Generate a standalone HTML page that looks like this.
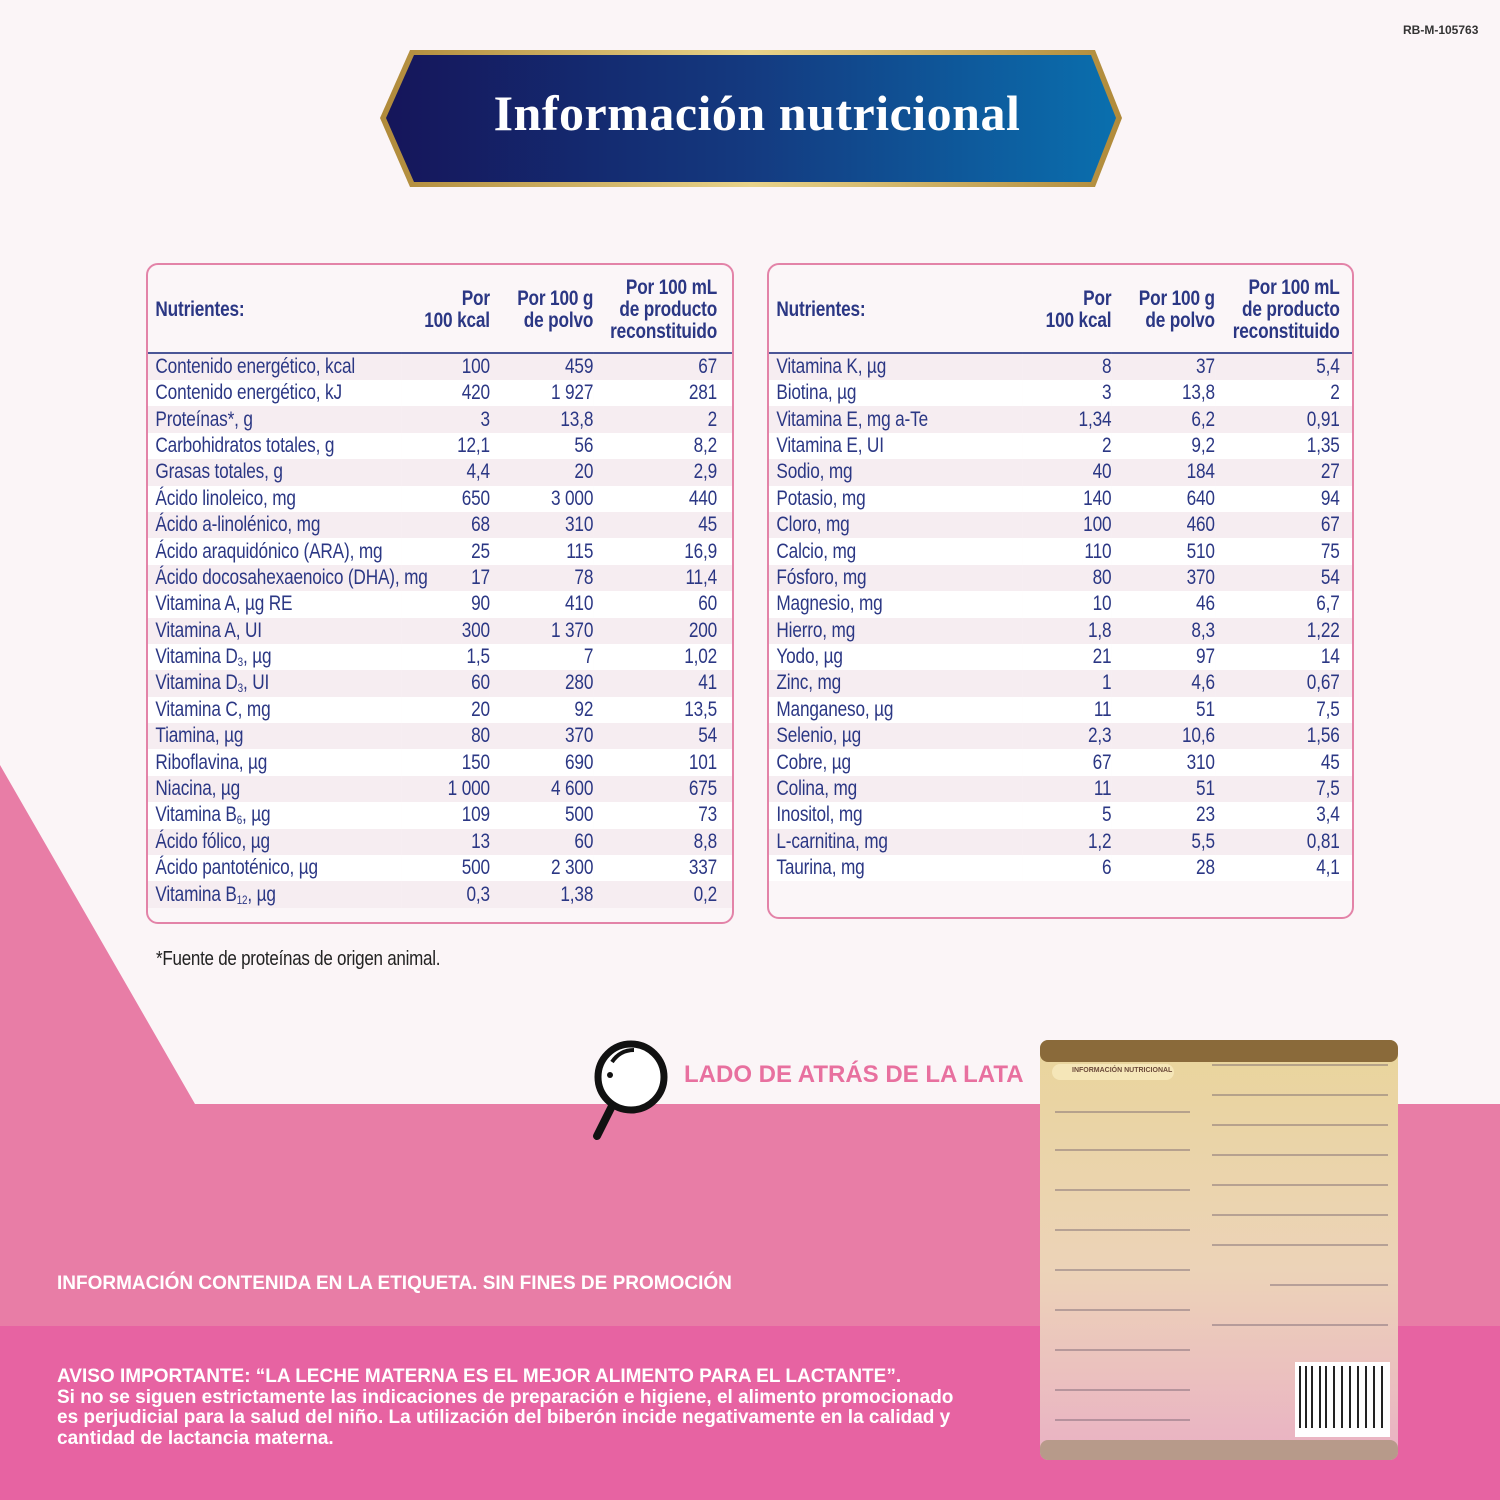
<!DOCTYPE html>
<html><head><meta charset="utf-8"><style>
*{margin:0;padding:0;box-sizing:border-box}
body{width:1500px;height:1500px;position:relative;overflow:hidden;background:#fbf5f7;font-family:"Liberation Sans Narrow","Liberation Sans",sans-serif}
.abs{position:absolute}
.box{position:absolute;top:263px;border:2px solid #e383a8;border-radius:12px;background:#fbf6f8;overflow:hidden}
table{border-collapse:collapse;table-layout:fixed;color:#2b3784;font-size:21px;letter-spacing:-0.2px;transform:scaleX(0.82);transform-origin:0 0;width:712px}
thead td{height:88px;vertical-align:middle;line-height:22px;font-weight:bold;border-bottom:2px solid #4a5596;padding-top:2px}
tbody td{height:26.4px;line-height:26px;white-space:nowrap;overflow:visible}
tbody tr:nth-child(odd) td{background:#f6edf1}
tbody tr:nth-child(even) td{background:#ffffff}
td.l{padding-left:9px}
td.n{text-align:right}
sub{font-size:12px;line-height:0;vertical-align:-3px}
.foot{color:#fff;font-family:"Liberation Sans",sans-serif;font-weight:bold}
</style></head><body>
<svg class="abs" style="left:0;top:0" width="1500" height="1500">
<polygon points="0,765 195,1104 1500,1104 1500,1326 0,1326" fill="#e87da6"/>
<rect x="0" y="1326" width="1500" height="174" fill="#e763a2"/>
<defs><linearGradient id="bg" x1="0" x2="1" y1="0" y2="0"><stop offset="0" stop-color="#15155a"/><stop offset="0.5" stop-color="#143a80"/><stop offset="1" stop-color="#0a6fae"/></linearGradient>
<linearGradient id="gd" x1="0" x2="1"><stop offset="0" stop-color="#b08a3a"/><stop offset="0.5" stop-color="#e8d38a"/><stop offset="1" stop-color="#b08a3a"/></linearGradient>
<linearGradient id="can" x1="0" x2="0" y1="0" y2="1"><stop offset="0" stop-color="#e9d59b"/><stop offset="0.55" stop-color="#ecd3b8"/><stop offset="1" stop-color="#eab1c4"/></linearGradient></defs>
<polygon points="410,50 1095,50 1122,118 1095,187 410,187 380,118" fill="url(#gd)"/>
<polygon points="414,55 1091,55 1116,118 1091,182 414,182 386,118" fill="url(#bg)"/>
<circle cx="631" cy="1077" r="33" fill="#fff" stroke="#111" stroke-width="7"/>
<path d="M612,1062 q8,-12 22,-12" stroke="#111" stroke-width="4" fill="none"/>
<circle cx="610" cy="1075" r="3" fill="#111"/>
<line x1="612" y1="1106" x2="597" y2="1136" stroke="#111" stroke-width="8" stroke-linecap="round"/>
<rect x="1040" y="1040" width="358" height="420" rx="8" fill="url(#can)"/>
<rect x="1040" y="1040" width="358" height="22" rx="8" fill="#8a6a3a"/>
<rect x="1040" y="1440" width="358" height="20" rx="8" fill="#b79a8a"/>
<rect x="1052" y="1064" width="122" height="16" rx="8" fill="#f5e6b8"/>
<g stroke="#6b5a6a" stroke-width="1.5" opacity="0.55">
<line x1="1055" y1="1112" x2="1190" y2="1112"/><line x1="1055" y1="1150" x2="1190" y2="1150"/><line x1="1055" y1="1190" x2="1190" y2="1190"/><line x1="1055" y1="1230" x2="1190" y2="1230"/><line x1="1055" y1="1270" x2="1190" y2="1270"/><line x1="1055" y1="1310" x2="1190" y2="1310"/><line x1="1055" y1="1350" x2="1190" y2="1350"/><line x1="1055" y1="1390" x2="1190" y2="1390"/><line x1="1055" y1="1420" x2="1190" y2="1420"/>
<line x1="1212" y1="1065" x2="1388" y2="1065"/><line x1="1212" y1="1095" x2="1388" y2="1095"/><line x1="1212" y1="1125" x2="1388" y2="1125"/><line x1="1212" y1="1155" x2="1388" y2="1155"/><line x1="1212" y1="1185" x2="1388" y2="1185"/><line x1="1212" y1="1215" x2="1388" y2="1215"/><line x1="1212" y1="1245" x2="1388" y2="1245"/>
<line x1="1270" y1="1285" x2="1388" y2="1285"/><line x1="1212" y1="1325" x2="1388" y2="1325"/>
</g>
<rect x="1295" y="1362" width="95" height="75" fill="#fff"/>
<g stroke="#222" stroke-width="2"><line x1="1300" y1="1366" x2="1300" y2="1428"/><line x1="1306" y1="1366" x2="1306" y2="1428"/><line x1="1312" y1="1366" x2="1312" y2="1428"/><line x1="1320" y1="1366" x2="1320" y2="1428"/><line x1="1326" y1="1366" x2="1326" y2="1428"/><line x1="1334" y1="1366" x2="1334" y2="1428"/><line x1="1342" y1="1366" x2="1342" y2="1428"/><line x1="1350" y1="1366" x2="1350" y2="1428"/><line x1="1358" y1="1366" x2="1358" y2="1428"/><line x1="1366" y1="1366" x2="1366" y2="1428"/><line x1="1374" y1="1366" x2="1374" y2="1428"/><line x1="1382" y1="1366" x2="1382" y2="1428"/></g>
</svg>
<div class="abs" style="left:1403px;top:23px;font:bold 12px 'Liberation Sans',sans-serif;color:#333">RB-M-105763</div>
<div class="abs" style="left:380px;top:84px;width:754px;text-align:center;color:#fff;font:bold 50px 'Liberation Serif','DejaVu Serif',serif;letter-spacing:0.5px">Información nutricional</div>
<div class="abs" style="left:1072px;top:1067px;font:bold 7px 'Liberation Sans',sans-serif;color:#6b4a3a">INFORMACIÓN NUTRICIONAL</div>

<div class="box" style="left:146px;width:588px;height:661px">
<table>
<colgroup><col style="width:309px"><col style="width:108px"><col style="width:126px"><col style="width:151px"><col style="width:18px"></colgroup>
<thead><tr><td class="l">Nutrientes:</td><td class="n">Por<br>100 kcal</td><td class="n">Por 100 g<br>de polvo</td><td class="n">Por 100 mL<br>de producto<br>reconstituido</td><td></td></tr></thead>
<tbody>
<tr><td class="l">Contenido energético, kcal</td><td class="n">100</td><td class="n">459</td><td class="n">67</td><td></td></tr>
<tr><td class="l">Contenido energético, kJ</td><td class="n">420</td><td class="n">1 927</td><td class="n">281</td><td></td></tr>
<tr><td class="l">Proteínas*, g</td><td class="n">3</td><td class="n">13,8</td><td class="n">2</td><td></td></tr>
<tr><td class="l">Carbohidratos totales, g</td><td class="n">12,1</td><td class="n">56</td><td class="n">8,2</td><td></td></tr>
<tr><td class="l">Grasas totales, g</td><td class="n">4,4</td><td class="n">20</td><td class="n">2,9</td><td></td></tr>
<tr><td class="l">Ácido linoleico, mg</td><td class="n">650</td><td class="n">3 000</td><td class="n">440</td><td></td></tr>
<tr><td class="l">Ácido a-linolénico, mg</td><td class="n">68</td><td class="n">310</td><td class="n">45</td><td></td></tr>
<tr><td class="l">Ácido araquidónico (ARA), mg</td><td class="n">25</td><td class="n">115</td><td class="n">16,9</td><td></td></tr>
<tr><td class="l">Ácido docosahexaenoico (DHA), mg</td><td class="n">17</td><td class="n">78</td><td class="n">11,4</td><td></td></tr>
<tr><td class="l">Vitamina A, µg RE</td><td class="n">90</td><td class="n">410</td><td class="n">60</td><td></td></tr>
<tr><td class="l">Vitamina A, UI</td><td class="n">300</td><td class="n">1 370</td><td class="n">200</td><td></td></tr>
<tr><td class="l">Vitamina D<sub>3</sub>, µg</td><td class="n">1,5</td><td class="n">7</td><td class="n">1,02</td><td></td></tr>
<tr><td class="l">Vitamina D<sub>3</sub>, UI</td><td class="n">60</td><td class="n">280</td><td class="n">41</td><td></td></tr>
<tr><td class="l">Vitamina C, mg</td><td class="n">20</td><td class="n">92</td><td class="n">13,5</td><td></td></tr>
<tr><td class="l">Tiamina, µg</td><td class="n">80</td><td class="n">370</td><td class="n">54</td><td></td></tr>
<tr><td class="l">Riboflavina, µg</td><td class="n">150</td><td class="n">690</td><td class="n">101</td><td></td></tr>
<tr><td class="l">Niacina, µg</td><td class="n">1 000</td><td class="n">4 600</td><td class="n">675</td><td></td></tr>
<tr><td class="l">Vitamina B<sub>6</sub>, µg</td><td class="n">109</td><td class="n">500</td><td class="n">73</td><td></td></tr>
<tr><td class="l">Ácido fólico, µg</td><td class="n">13</td><td class="n">60</td><td class="n">8,8</td><td></td></tr>
<tr><td class="l">Ácido pantoténico, µg</td><td class="n">500</td><td class="n">2 300</td><td class="n">337</td><td></td></tr>
<tr><td class="l">Vitamina B<sub>12</sub>, µg</td><td class="n">0,3</td><td class="n">1,38</td><td class="n">0,2</td><td></td></tr>
</tbody></table></div>

<div class="box" style="left:767px;width:587px;height:656px">
<table>
<colgroup><col style="width:309px"><col style="width:108px"><col style="width:126px"><col style="width:152px"><col style="width:16px"></colgroup>
<thead><tr><td class="l">Nutrientes:</td><td class="n">Por<br>100 kcal</td><td class="n">Por 100 g<br>de polvo</td><td class="n">Por 100 mL<br>de producto<br>reconstituido</td><td></td></tr></thead>
<tbody>
<tr><td class="l">Vitamina K, µg</td><td class="n">8</td><td class="n">37</td><td class="n">5,4</td><td></td></tr>
<tr><td class="l">Biotina, µg</td><td class="n">3</td><td class="n">13,8</td><td class="n">2</td><td></td></tr>
<tr><td class="l">Vitamina E, mg a-Te</td><td class="n">1,34</td><td class="n">6,2</td><td class="n">0,91</td><td></td></tr>
<tr><td class="l">Vitamina E, UI</td><td class="n">2</td><td class="n">9,2</td><td class="n">1,35</td><td></td></tr>
<tr><td class="l">Sodio, mg</td><td class="n">40</td><td class="n">184</td><td class="n">27</td><td></td></tr>
<tr><td class="l">Potasio, mg</td><td class="n">140</td><td class="n">640</td><td class="n">94</td><td></td></tr>
<tr><td class="l">Cloro, mg</td><td class="n">100</td><td class="n">460</td><td class="n">67</td><td></td></tr>
<tr><td class="l">Calcio, mg</td><td class="n">110</td><td class="n">510</td><td class="n">75</td><td></td></tr>
<tr><td class="l">Fósforo, mg</td><td class="n">80</td><td class="n">370</td><td class="n">54</td><td></td></tr>
<tr><td class="l">Magnesio, mg</td><td class="n">10</td><td class="n">46</td><td class="n">6,7</td><td></td></tr>
<tr><td class="l">Hierro, mg</td><td class="n">1,8</td><td class="n">8,3</td><td class="n">1,22</td><td></td></tr>
<tr><td class="l">Yodo, µg</td><td class="n">21</td><td class="n">97</td><td class="n">14</td><td></td></tr>
<tr><td class="l">Zinc, mg</td><td class="n">1</td><td class="n">4,6</td><td class="n">0,67</td><td></td></tr>
<tr><td class="l">Manganeso, µg</td><td class="n">11</td><td class="n">51</td><td class="n">7,5</td><td></td></tr>
<tr><td class="l">Selenio, µg</td><td class="n">2,3</td><td class="n">10,6</td><td class="n">1,56</td><td></td></tr>
<tr><td class="l">Cobre, µg</td><td class="n">67</td><td class="n">310</td><td class="n">45</td><td></td></tr>
<tr><td class="l">Colina, mg</td><td class="n">11</td><td class="n">51</td><td class="n">7,5</td><td></td></tr>
<tr><td class="l">Inositol, mg</td><td class="n">5</td><td class="n">23</td><td class="n">3,4</td><td></td></tr>
<tr><td class="l">L-carnitina, mg</td><td class="n">1,2</td><td class="n">5,5</td><td class="n">0,81</td><td></td></tr>
<tr><td class="l">Taurina, mg</td><td class="n">6</td><td class="n">28</td><td class="n">4,1</td><td></td></tr>
</tbody></table></div>

<div class="abs" style="left:156px;top:948px;font-size:20px;color:#222;letter-spacing:-0.3px;transform:scaleX(0.85);transform-origin:0 0">*Fuente de proteínas de origen animal.</div>
<div class="abs" style="left:684px;top:1061px;font:bold 24px 'Liberation Sans',sans-serif;color:#e8709f">LADO DE ATRÁS DE LA LATA</div>
<div class="abs foot" style="left:57px;top:1273px;font-size:19px">INFORMACIÓN CONTENIDA EN LA ETIQUETA. SIN FINES DE PROMOCIÓN</div>
<div class="abs foot" style="left:57px;top:1367px;font-size:19px;line-height:20.5px">AVISO IMPORTANTE: “LA LECHE MATERNA ES EL MEJOR ALIMENTO PARA EL LACTANTE”.<br>Si no se siguen estrictamente las indicaciones de preparación e higiene, el alimento promocionado<br>es perjudicial para la salud del niño. La utilización del biberón incide negativamente en la calidad y<br>cantidad de lactancia materna.</div>
</body></html>
